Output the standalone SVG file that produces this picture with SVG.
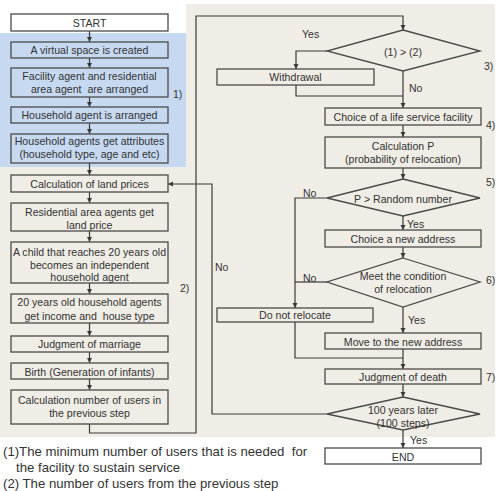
<svg xmlns="http://www.w3.org/2000/svg" width="499" height="491" viewBox="0 0 499 491">
<defs>
<marker id="ah" markerWidth="6" markerHeight="6" refX="5" refY="3" orient="auto" markerUnits="userSpaceOnUse">
<path d="M0,0.5 L5,3 L0,5.5 z" fill="#3a3a3a"/>
</marker>
<style>
.bx{fill:none;stroke:#4a4a4a;stroke-width:1.3}
.wb{fill:#fff;stroke:#4a4a4a;stroke-width:1.3}
.t{font-family:"Liberation Sans",Arial,sans-serif;font-size:10.6px;fill:#333;text-anchor:middle}
.l{font-family:"Liberation Sans",Arial,sans-serif;font-size:10.5px;fill:#333}
.f{font-family:"Liberation Sans",Arial,sans-serif;font-size:13.2px;fill:#333}
.c{fill:none;stroke:#3a3a3a;stroke-width:1.2}
.ca{fill:none;stroke:#3a3a3a;stroke-width:1.2;marker-end:url(#ah)}
</style>
</defs>
<rect x="0" y="0" width="499" height="491" fill="#fff"/>
<rect x="186" y="4" width="309" height="433" fill="#efede6"/>
<rect x="0" y="167" width="186" height="270" fill="#efede6"/>
<rect x="0" y="33" width="186" height="134" fill="#c6d9f0"/>

<g id="connectors">
<line class="ca" x1="89.5" y1="31" x2="89.5" y2="42"/>
<line class="ca" x1="89.5" y1="58" x2="89.5" y2="68"/>
<line class="ca" x1="89.5" y1="97" x2="89.5" y2="107"/>
<line class="ca" x1="89.5" y1="123" x2="89.5" y2="134"/>
<line class="ca" x1="89.5" y1="163" x2="89.5" y2="175"/>
<line class="ca" x1="89.5" y1="192" x2="89.5" y2="203"/>
<line class="ca" x1="89.5" y1="231" x2="89.5" y2="242"/>
<line class="ca" x1="89.5" y1="283" x2="89.5" y2="294"/>
<line class="ca" x1="89.5" y1="323" x2="89.5" y2="336"/>
<line class="ca" x1="89.5" y1="352" x2="89.5" y2="363"/>
<line class="ca" x1="89.5" y1="379" x2="89.5" y2="390"/>
<polyline class="ca" points="89.5,424 89.5,433 196,433 196,16 403,16 403,30"/>
<polyline class="ca" points="327,51 296,51 296,69"/>
<polyline class="c" points="296,85 296,96 403,96"/>
<line class="ca" x1="403" y1="71" x2="403" y2="108"/>
<line class="ca" x1="403" y1="125" x2="403" y2="137"/>
<line class="ca" x1="403" y1="168" x2="403" y2="179"/>
<polyline class="ca" points="327,198 295,198 295,308"/>
<line class="ca" x1="403" y1="216" x2="403" y2="230"/>
<line class="ca" x1="403" y1="247" x2="403" y2="258"/>
<polyline class="c" points="327,282 295,282"/>
<line class="ca" x1="403" y1="307" x2="403" y2="333"/>
<polyline class="c" points="295,322 295,358 403,358"/>
<line class="ca" x1="403" y1="349" x2="403" y2="369"/>
<line class="ca" x1="403" y1="384" x2="403" y2="397"/>
<line class="ca" x1="403" y1="430" x2="403" y2="448"/>
<polyline class="ca" points="327,414 212,414 212,184 168,184"/>
</g>

<g id="start"><rect class="wb" x="11" y="14" width="157" height="17"/><text class="t" x="89.5" y="26.5">START</text></g>
<g id="virtual-space"><rect class="bx" x="11" y="42" width="157" height="16"/><text class="t" x="89.5" y="54">A virtual space is created</text></g>
<g id="facility-agent"><rect class="bx" x="11" y="68" width="157" height="29"/><text class="t" x="89.5" y="80">Facility agent and residential</text><text class="t" x="89.5" y="93" xml:space="preserve">area agent  are arranged</text></g>
<g id="household-arranged"><rect class="bx" x="11" y="107" width="157" height="16"/><text class="t" x="89.5" y="119">Household agent is arranged</text></g>
<g id="household-attributes"><rect class="bx" x="11" y="134" width="157" height="29"/><text class="t" x="89.5" y="145">Household agents get attributes</text><text class="t" x="89.5" y="158">(household type, age and etc)</text></g>
<g id="land-prices"><rect class="bx" x="11" y="175" width="157" height="17"/><text class="t" x="89.5" y="188">Calculation of land prices</text></g>
<g id="residential-price"><rect class="bx" x="11" y="203" width="157" height="28"/><text class="t" x="89.5" y="216">Residential area agents get</text><text class="t" x="89.5" y="229">land price</text></g>
<g id="child-independent"><rect class="bx" x="11" y="242" width="157" height="41"/><text class="t" x="89.5" y="255.5">A child that reaches 20 years old</text><text class="t" x="89.5" y="268.5">becomes an independent</text><text class="t" x="89.5" y="281">household agent</text></g>
<g id="income-house"><rect class="bx" x="11" y="294" width="157" height="29"/><text class="t" x="89.5" y="306">20 years old household agents</text><text class="t" x="89.5" y="319.5" xml:space="preserve">get income and  house type</text></g>
<g id="marriage"><rect class="bx" x="11" y="336" width="157" height="16"/><text class="t" x="89.5" y="348">Judgment of marriage</text></g>
<g id="birth"><rect class="bx" x="11" y="363" width="157" height="16"/><text class="t" x="89.5" y="375.5">Birth (Generation of infants)</text></g>
<g id="calc-users"><rect class="bx" x="11" y="390" width="157" height="34"/><text class="t" x="89.5" y="404">Calculation number of users in</text><text class="t" x="89.5" y="416.5">the previous step</text></g>

<g id="decision-users"><polygon class="bx" points="403,30 480,51 403,71 327,51"/><text class="t" x="403" y="55.5">(1) &gt; (2)</text></g>
<g id="withdrawal"><rect class="bx" x="217" y="69" width="157" height="16"/><text class="t" x="295.5" y="81">Withdrawal</text></g>
<g id="choice-facility"><rect class="bx" x="325" y="108" width="156" height="17"/><text class="t" x="403" y="120.5">Choice of a life service facility</text></g>
<g id="calc-p"><rect class="bx" x="325" y="137" width="156" height="31"/><text class="t" x="403" y="150">Calculation P</text><text class="t" x="403" y="163">(probability of relocation)</text></g>
<g id="decision-random"><polygon class="bx" points="403,179 480,198 403,216 327,198"/><text class="t" x="403" y="203">P &gt; Random number</text></g>
<g id="choice-address"><rect class="bx" x="325" y="230" width="156" height="17"/><text class="t" x="403" y="243">Choice a new address</text></g>
<g id="decision-condition"><polygon class="bx" points="403,258 480,282 403,307 327,282"/><text class="t" x="403" y="279.5">Meet the condition</text><text class="t" x="403" y="293">of relocation</text></g>
<g id="do-not-relocate"><rect class="bx" x="217" y="308" width="156" height="14"/><text class="t" x="295" y="319">Do not relocate</text></g>
<g id="move"><rect class="bx" x="325" y="333" width="156" height="16"/><text class="t" x="403" y="345.5">Move to the new address</text></g>
<g id="death"><rect class="bx" x="325" y="369" width="156" height="15"/><text class="t" x="403" y="380.5">Judgment of death</text></g>
<g id="decision-years"><polygon class="bx" points="403,397 480,414 403,430 327,414"/><text class="t" x="403" y="414">100 years later</text><text class="t" x="403" y="426.5">(100 steps)</text></g>
<g id="end"><rect class="wb" x="325" y="448" width="156" height="16"/><text class="t" x="403" y="460.5">END</text></g>

<g id="labels">
<text class="l" x="173" y="98">1)</text>
<text class="l" x="180" y="292">2)</text>
<text class="l" x="484" y="70">3)</text>
<text class="l" x="486" y="129">4)</text>
<text class="l" x="486" y="186">5)</text>
<text class="l" x="486" y="284">6)</text>
<text class="l" x="486" y="381">7)</text>
<text class="l" x="302" y="38">Yes</text>
<text class="l" x="409" y="92">No</text>
<text class="l" x="303" y="197">No</text>
<text class="l" x="407" y="228">Yes</text>
<text class="l" x="303" y="282">No</text>
<text class="l" x="408" y="324">Yes</text>
<text class="l" x="215" y="271">No</text>
<text class="l" x="410" y="444">Yes</text>
</g>

<g id="footnotes">
<text class="f" x="3" y="456" xml:space="preserve">(1)The minimum number of users that is needed  for</text>
<text class="f" x="16" y="472">the facility to sustain service</text>
<text class="f" x="3" y="488">(2) The number of users from the previous step</text>
</g>
</svg>
